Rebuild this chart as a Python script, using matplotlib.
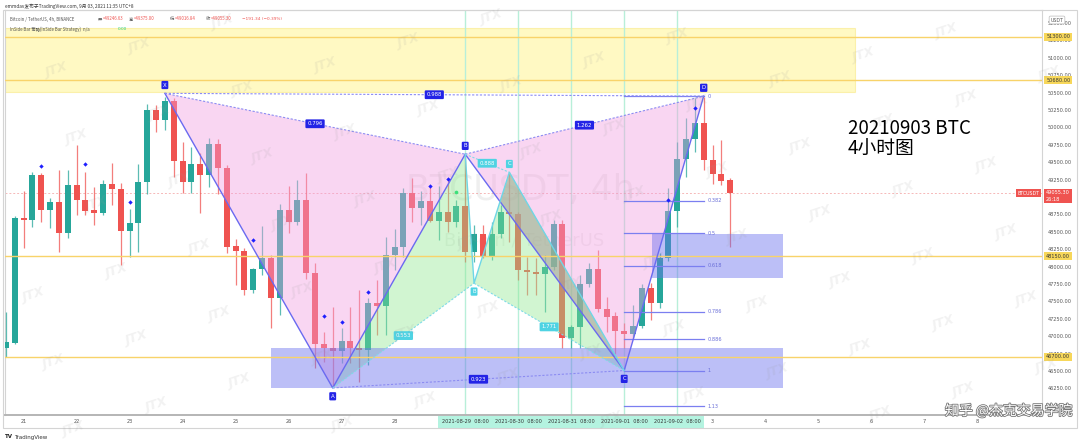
import numpy as np
import matplotlib.pyplot as plt
from matplotlib.patches import Rectangle, Polygon
import matplotlib.patheffects as pe

plt.rcParams['font.family'] = ['DejaVu Sans', 'Noto Sans CJK SC']
CJK = ['Noto Sans CJK SC', 'DejaVu Sans']

GREEN = '#26a69a'
RED = '#ef5350'

# BTCUSDT 4h candles, index 0 = 2021-08-20 16:00 (UTC+8)
opens = [46830, 46900, 48700, 48670, 49320, 48810, 48930, 48480, 49170, 48960,
         48810, 48770, 49190, 49115, 48510, 48630, 49220, 50250, 50110, 50380,
         49520, 49220, 49475, 49320, 49760, 49420, 48295, 48225, 47660, 47965,
         48120, 47550, 48810, 48640, 48960, 47905, 46890, 46830, 46790, 46930,
         46830, 46800, 47475, 47435, 48165, 48280, 49060, 48840, 48945, 48655,
         48785, 48640, 48870, 48210, 48470, 48135, 48470, 48785, 48755, 47950,
         47920, 47895, 47995, 48610, 46975, 47130, 47750, 47965, 47390, 47290,
         47075, 47030, 47145, 47690, 47475, 48125, 48800, 49545, 49835, 50065,
         49530, 49330, 49246.63]
highs = [47350, 48720, 49090, 49360, 49345, 48990, 49390, 49390, 49750, 49360,
         49140, 49245, 49490, 49200, 48830, 49475, 50340, 50320, 50440, 50420,
         49790, 49720, 49630, 49850, 49835, 49460, 48400, 48270, 47980, 48580,
         48165, 48900, 49160, 49245, 49345, 48050, 47060, 47420, 47120, 47420,
         47660, 47550, 47810, 48425, 48540, 49130, 49275, 49085, 49175, 49160,
         49275, 48955, 49615, 48600, 48600, 48640, 48885, 49355, 48785, 48135,
         48125, 48165, 48670, 48670, 47160, 47880, 48050, 48240, 47560, 47345,
         47190, 47445, 47750, 47765, 48195, 49130, 49790, 50135, 50420, 50440,
         49745, 49820, 49280]
lows = [46700, 46880, 48270, 48570, 48640, 48550, 48210, 48410, 48740, 48740,
        48600, 48740, 48885, 48020, 48140, 48210, 49040, 49930, 49960, 49290,
        49060, 49060, 48770, 49140, 49040, 48195, 47735, 47590, 47620, 47880,
        47115, 47300, 48480, 48600, 47820, 46540, 46630, 46270, 46615, 46615,
        46340, 46585, 47015, 47015, 47950, 48140, 48640, 48600, 48640, 48380,
        48500, 48570, 48065, 48065, 48125, 48095, 48410, 48355, 47805, 47590,
        47590, 47345, 47950, 46830, 46830, 46830, 47705, 47345, 47060, 46745,
        46830, 46975, 47115, 47230, 47405, 48080, 48570, 49290, 49645, 49390,
        49185, 49175, 48280]
closes = [46920, 48700, 48670, 49320, 48810, 48930, 48480, 49170, 48960, 48800,
          48770, 49190, 49115, 48510, 48630, 49220, 50250, 50110, 50380, 49520,
          49220, 49475, 49320, 49760, 49420, 48280, 48225, 47660, 47965, 48120,
          47550, 48810, 48640, 48960, 47905, 46890, 46830, 46790, 46930, 46830,
          46800, 47475, 47435, 48165, 48280, 49060, 48840, 48945, 48655, 48785,
          48640, 48870, 48210, 48470, 48135, 48470, 48785, 48755, 47950, 47920,
          47895, 47995, 48610, 46975, 47130, 47750, 47965, 47390, 47275, 47075,
          47030, 47145, 47690, 47475, 48125, 48800, 49545, 49835, 50065, 49530,
          49330, 49230, 49055.30]
last_price = 49055.30

# signal dots
dot_idx = [4, 9, 14, 28, 36, 38, 41, 48, 50, 75, 78]
dot_price = [49446, 49475, 48928, 48382, 47289, 47203, 47634, 49158, 49259, 48957, 50279]
green_dot = (51, 49072)

# horizontal levels (drawn by author)
levels = [51300, 50680, 48150, 46700]

# harmonic pattern XABCD
pat_names = ['X', 'A', 'B', 'C', 'D']
pat_idx = [18, 37, 52, 70, 79]
pat_price = [50490, 46255, 49615, 46505, 50450]
pat_ratios = ['0.796', '0.988', '1.262', '0.923']   # XB, XD, BD, AC

# second (cyan) pattern: A -> B -> B' -> C' -> C
cy_idx = [37, 52, 53, 57, 70]
cy_price = [46255, 49615, 47760, 49355, 46505]
cy_ratios = ['0.553', '0.888', '1.771']

# fib retracement D -> C
fib_levels = [0, 0.382, 0.5, 0.618, 0.786, 0.886, 1, 1.13]
fib_labels = ['0', '0.382', '0.5', '0.618', '0.786', '0.886', '1', '1.13']

# zones
yellow_zone = (-0.1, 96.1, 50505, 51430)
blue_zones = [(30.0, 88.0, 46250, 46825), (73.2, 88.0, 47840, 48465)]

# time axis
day_pos = [2, 8, 14, 20, 26, 32, 38, 44, 80, 86, 92, 98, 104, 110]
day_lbl = ['21', '22', '23', '24', '25', '26', '27', '28', '3', '4', '5', '6', '7', '8']
mark_pos = [52, 58, 64, 70, 76]
mark_lbl = ['2021-08-29  08:00', '2021-08-30  08:00', '2021-08-31  08:00',
            '2021-09-01  08:00', '2021-09-02  08:00']

W, H = 1080, 446
fig = plt.figure(figsize=(W / 100, H / 100), dpi=100)
ax = fig.add_axes([5 / W, 31 / H, 1037 / W, 405 / H])
ax.set_xlim(-0.1, 117.3)
ax.set_ylim(45866, 51688)

def fx(px):
    return px / W

def fy(py):
    return 1 - py / H

# watermarks JTX
for i in range(-8, 12):
    for j in range(-3, 15):
        px = 13 + 20 * i + 83 * j
        py = 228 + 67 * i - 24 * j
        if 14 < px < W - 20 and 14 < py < H - 10:
            fig.text(fx(px), fy(py), 'JTX', fontsize=9, style='italic', weight='bold',
                     color='#999999', alpha=0.13, rotation=18, ha='center', va='center')

ax.text(0.497, 0.556, 'BTCUSDT, 4h', transform=ax.transAxes, fontsize=25,
        color='#8a8a8a', alpha=0.13, ha='center', va='center', zorder=2)
ax.text(0.501, 0.432, 'Bitcoin / TetherUS', transform=ax.transAxes, fontsize=13,
        color='#8a8a8a', alpha=0.13, ha='center', va='center', zorder=2)

# yellow zone
x0, x1, y0, y1 = yellow_zone
ax.add_patch(Rectangle((x0, y0), x1 - x0, y1 - y0, fc='#fff27a', ec='#f7e36a',
                       alpha=0.45, lw=0.8, zorder=1))

# vertical marker lines
for p in mark_pos:
    ax.axvline(p, color='#b8efd9', lw=1, zorder=1)

ax.axhline(last_price, color='#f08a8a', lw=0.7, ls=(0, (2, 2)), alpha=0.6, zorder=2)

# candles
idx = np.arange(len(opens))
o, h, l, c = map(np.array, (opens, highs, lows, closes))
col = np.where(c >= o, GREEN, RED)
ax.vlines(idx, l, h, colors=col, lw=0.9, alpha=0.75, zorder=3)
ax.bar(idx, np.maximum(np.abs(c - o), 15), bottom=np.minimum(o, c), width=0.68,
       color=col, lw=0, zorder=4)

# pattern fills
px_, pp_ = pat_idx, pat_price
ax.add_patch(Polygon([(px_[0], pp_[0]), (px_[1], pp_[1]), (px_[2], pp_[2])],
                     closed=True, fc='#f29ee0', ec='none', alpha=0.42, zorder=5))
ax.add_patch(Polygon([(px_[2], pp_[2]), (px_[3], pp_[3]), (px_[4], pp_[4])],
                     closed=True, fc='#f29ee0', ec='none', alpha=0.42, zorder=5))
cx, cp = cy_idx, cy_price
ax.add_patch(Polygon([(cx[0], cp[0]), (cx[1], cp[1]), (cx[2], cp[2])],
                     closed=True, fc='#8ce88c', ec='none', alpha=0.4, zorder=5))
ax.add_patch(Polygon([(cx[2], cp[2]), (cx[3], cp[3]), (cx[4], cp[4])],
                     closed=True, fc='#8ce88c', ec='none', alpha=0.4, zorder=5))

# overlap of B'C'C with BCD drawn greyish
def intersect(p1, p2, p3, p4):
    a = np.array([[p2[0] - p1[0], p3[0] - p4[0]], [p2[1] - p1[1], p3[1] - p4[1]]], float)
    b = np.array([p3[0] - p1[0], p3[1] - p1[1]], float)
    t = np.linalg.solve(a, b)[0]
    return (p1[0] + t * (p2[0] - p1[0]), p1[1] + t * (p2[1] - p1[1]))

P = intersect((cx[2], cp[2]), (cx[3], cp[3]), (px_[2], pp_[2]), (px_[3], pp_[3]))
ax.add_patch(Polygon([P, (cx[3], cp[3]), (cx[4], cp[4])], closed=True,
                     fc='#9c9488', ec='none', alpha=0.35, zorder=5))

# blue zones
for (a0, a1, b0, b1) in blue_zones:
    ax.add_patch(Rectangle((a0, b0), a1 - a0, b1 - b0, fc='#6b72ee', ec='none',
                           alpha=0.45, zorder=5))

for lv in levels:
    ax.axhline(lv, color='#f8d36a', lw=1, zorder=6)

# fib retracement
rng = pat_price[4] - pat_price[3]
for lv, lb in zip(fib_levels, fib_labels):
    p = pat_price[4] - lv * rng
    ax.plot([pat_idx[3], pat_idx[4]], [p, p], color='#7b7ff0', lw=0.9, zorder=6)
    ax.text(pat_idx[4] + 0.4, p, lb, fontsize=3.6, color='#6a6fd8', va='center',
            ha='left', zorder=6)

# pattern lines
ax.plot(px_, pp_, color='#6a6af0', lw=1, zorder=7)
ax.plot(cx[1:], cp[1:], color='#6fd6e6', lw=1, zorder=7)
dash = dict(color='#8c8cf2', lw=0.8, ls=(0, (2, 1.5)), zorder=7)
pairs = [(0, 2), (0, 4), (2, 4), (1, 3)]
for (a, b), r in zip(pairs, pat_ratios):
    ax.plot([px_[a], px_[b]], [pp_[a], pp_[b]], **dash)
    ax.text((px_[a] + px_[b]) / 2, (pp_[a] + pp_[b]) / 2, r, fontsize=3.9, color='white',
            ha='center', va='center', zorder=10,
            bbox=dict(boxstyle='round,pad=0.35,rounding_size=0.2', fc='#2323e6', ec='none'))
cdash = dict(color='#7fdbe8', lw=0.8, ls=(0, (2, 1.5)), zorder=7)
for (a, b), r in zip([(0, 2), (1, 3), (2, 4)], cy_ratios):
    ax.plot([cx[a], cx[b]], [cp[a], cp[b]], **cdash)
    ax.text((cx[a] + cx[b]) / 2, (cp[a] + cp[b]) / 2, r, fontsize=3.9, color='white',
            ha='center', va='center', zorder=10,
            bbox=dict(boxstyle='round,pad=0.35,rounding_size=0.2', fc='#4fd3e3', ec='none'))

def point_tag(x, y, s, fc, up):
    ax.annotate(s, (x, y), xytext=(0, 6 if up else -6), textcoords='offset points',
                fontsize=3.9, color='white', ha='center', va='center', zorder=11,
                bbox=dict(boxstyle='round,pad=0.3,rounding_size=0.2', fc=fc, ec='none'))

for n, x, y, u in zip(pat_names, px_, pp_, [True, False, True, False, True]):
    point_tag(x, y, n, '#2323e6', u)
point_tag(cx[2], cp[2], 'B', '#4fd3e3', False)
point_tag(cx[3], cp[3], 'C', '#4fd3e3', True)

ax.scatter(dot_idx, dot_price, marker='D', s=5, color='#1f1fff', zorder=8, lw=0)
ax.scatter([green_dot[0]], [green_dot[1]], marker='o', s=7, color='#3ce07a', zorder=8, lw=0)

# axes styling
for s in ax.spines.values():
    s.set_color('#d4d4d4')
    s.set_linewidth(0.8)
ax.spines['bottom'].set_color('#b5b5b5')
ax.spines['bottom'].set_linewidth(1.4)

ax.yaxis.tick_right()
yt = np.arange(46000, 51501, 250)
ax.set_yticks(yt)
# 49000 sits under the live price tag, as on the chart
ax.set_yticklabels(['' if v == 49000 else f'{v:.2f}' for v in yt])
ax.tick_params(axis='y', length=0, pad=4, labelsize=3.6, labelcolor='#555555')

xt = day_pos + mark_pos
xl = day_lbl + mark_lbl
ax.set_xticks(xt)
ax.set_xticklabels(xl)
ax.tick_params(axis='x', length=0, pad=3.2, labelsize=3.6, labelcolor='#555555')
for t in ax.get_xticklabels():
    if t.get_text() in mark_lbl:
        t.set_bbox(dict(boxstyle='square,pad=0.75', fc='#b4f3e0', ec='none'))
        t.set_color('#333333')

# price tags on the axis
for lv in levels:
    ax.annotate(f'{lv:.2f}', (1, lv), xycoords=('axes fraction', 'data'), xytext=(3, 0),
                textcoords='offset points', fontsize=3.6, color='#333333', va='center',
                ha='left', zorder=12, annotation_clip=False,
                bbox=dict(boxstyle='square,pad=0.35', fc='#f7d75a', ec='none'))
ax.annotate(f'{last_price:.2f}\n26:18', (1, last_price), xycoords=('axes fraction', 'data'),
            xytext=(3, -2), textcoords='offset points', fontsize=3.6, color='white',
            va='center', ha='left', zorder=12, annotation_clip=False, linespacing=1.3,
            bbox=dict(boxstyle='square,pad=0.35', fc=RED, ec='none'))
ax.annotate('BTCUSDT', (1, last_price), xycoords=('axes fraction', 'data'), xytext=(-2, 0),
            textcoords='offset points', fontsize=3.4, color='white', va='center',
            ha='right', zorder=12,
            bbox=dict(boxstyle='square,pad=0.35', fc=RED, ec='none'))
fig.text(fx(1057), fy(20), 'USDT', fontsize=3.4, color='#555555', ha='center', va='center',
         bbox=dict(boxstyle='round,pad=0.3', fc='white', ec='#bbbbbb', lw=0.5))

# outer frame
fig.add_artist(Rectangle((fx(3), fy(428)), fx(1077) - fx(3), fy(10) - fy(428),
                         fill=False, ec='#d4d4d4', lw=0.8, transform=fig.transFigure))

# header
fig.text(fx(5), fy(6), 'emmdav发布于TradingView.com, 9月 03, 2021 11:35 UTC+8',
         fontsize=3.4, color='#333333', va='center', family=CJK)
fig.text(fx(10), fy(19), 'Bitcoin / TetherUS, 4h, BINANCE', fontsize=3.1,
         color='#555555', va='center', family=CJK)
hdr = [(98, '开', '=49246.63'), (129, '高', '=49375.00'), (170, '低', '=49016.84'),
       (206, '收', '=49055.30')]
for x, k, v in hdr:
    fig.text(fx(x), fy(19), k, fontsize=3.1, color='#555555', va='center', family=CJK)
    fig.text(fx(x + 4.5), fy(19), v, fontsize=3.1, color=RED, va='center', family=CJK)
fig.text(fx(242), fy(19), '−191.34 (−0.39%)', fontsize=3.1, color=RED, va='center')
fig.text(fx(10), fy(29), 'InSide Bar 策略(InSide Bar Strategy)  n/a', fontsize=3.1,
         color='#555555', va='center', family=CJK)
fig.text(fx(118), fy(29), '0.00', fontsize=3.1, color='#26d07c', va='center')

# annotation text
fig.text(fx(848), fy(129), '20210903 BTC', fontsize=13.5, color='black', va='center',
         family=CJK)
fig.text(fx(848), fy(149), '4小时图', fontsize=13.5, color='black', va='center',
         family=CJK)

fig.text(fx(945), fy(411), '知乎 @杰克交易学院', fontsize=10, color='white', va='center',
         family=CJK, path_effects=[pe.withStroke(linewidth=1.2, foreground='#777777')])
fig.text(fx(5), fy(437), 'TV', fontsize=4, weight='bold', color='#222222', va='center')
fig.text(fx(14), fy(437), 'TradingView', fontsize=4, color='#333333', va='center')

fig.savefig('out.png', dpi=100)
